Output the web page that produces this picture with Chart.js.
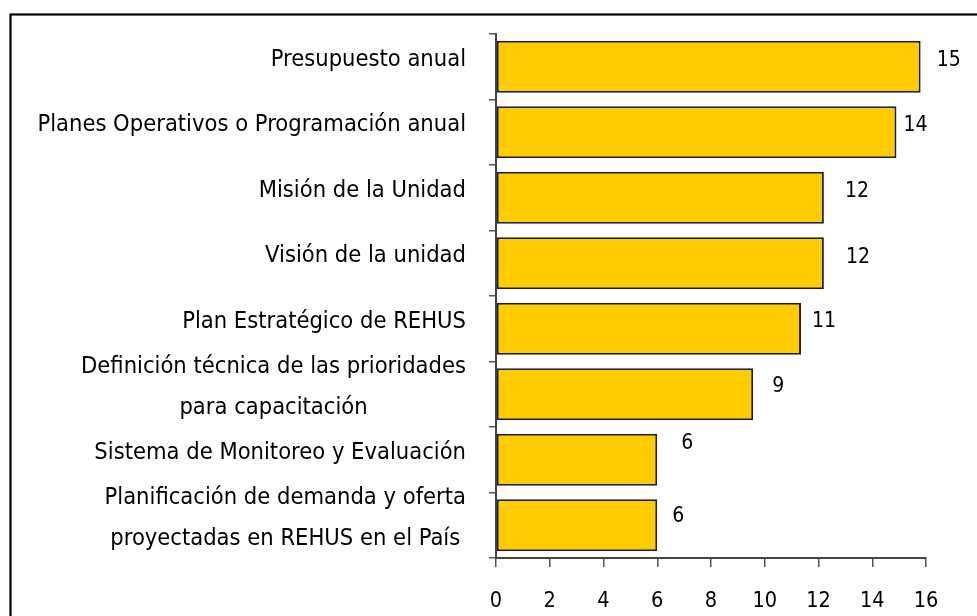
<!DOCTYPE html>
<html>
<head>
<meta charset="utf-8">
<script src="https://cdn.jsdelivr.net/npm/chart.js@4.4.1/dist/chart.umd.min.js"></script>
<style>
html,body{margin:0;padding:0;background:#fff;}
#wrap{width:977px;height:616px;position:relative;}
</style>
</head>
<body>
<div id="wrap"><canvas id="chart" width="977" height="616"></canvas></div>
<script>
// ---- data ----
const categories = [
  'Presupuesto anual',
  'Planes Operativos o Programación anual',
  'Misión de la Unidad',
  'Visión de la unidad',
  'Plan Estratégico de REHUS',
  ['Definición técnica de las prioridades', 'para capacitación'],
  'Sistema de Monitoreo y Evaluación',
  ['Planificación de demanda y oferta', 'proyectadas en REHUS en el País']
];
const barValues = [15.8, 14.9, 12.2, 12.2, 11.35, 9.57, 6.0, 6.0];
const valueLabels = ['15', '14', '12', '12', '11', '9', '6', '6'];
const xTickValues = [0, 2, 4, 6, 8, 10, 12, 14, 16];

// ---- styling ----
const FONT = '"DejaVu Sans Condensed", "DejaVu Sans", sans-serif';
const labelShift = [[16,-6],[7,-7],[21,-6],[22,-6],[11,-7],[19,-8],[24,-16],[15,-9]];

const frame = {
  id: 'frame',
  beforeDraw(chart) {
    const c = chart.ctx;
    c.save();
    c.fillStyle = '#fff';
    c.fillRect(0, 0, chart.width, chart.height);
    c.strokeStyle = '#000';
    c.lineWidth = 2.2;
    c.strokeRect(10.5, 14.5, 3000, 3000);
    c.restore();
  }
};

const yLabels = {
  id: 'yLabels',
  afterDraw(chart) {
    const c = chart.ctx;
    const ys = chart.scales.y;
    c.save();
    c.font = '23.5px ' + FONT;
    c.fillStyle = '#000';
    c.textAlign = 'center';
    c.textBaseline = 'middle';
    const R = 466;
    categories.forEach((lbl, i) => {
      const lines = Array.isArray(lbl) ? lbl : [lbl];
      const bw = Math.max(...lines.map(l => c.measureText(l).width));
      const cx = R - bw / 2;
      const y = ys.getPixelForValue(i) - 7;
      lines.forEach((l, j) => {
        c.fillText(l, cx, y + (j - (lines.length - 1) / 2) * 41);
      });
    });
    c.restore();
  }
};

const valueLabelPlugin = {
  id: 'valueLabels',
  afterDatasetsDraw(chart) {
    const c = chart.ctx;
    const meta = chart.getDatasetMeta(0);
    c.save();
    c.font = '21px ' + FONT;
    c.fillStyle = '#000';
    c.textAlign = 'left';
    c.textBaseline = 'middle';
    meta.data.forEach((el, i) => {
      const [dx, dy] = labelShift[i];
      c.fillText(valueLabels[i], el.x + dx, el.y + dy);
    });
    c.restore();
  }
};

new Chart(document.getElementById('chart'), {
  type: 'bar',
  data: {
    labels: categories,
    datasets: [{
      data: barValues,
      backgroundColor: '#FFCC00',
      borderColor: '#222',
      borderWidth: 2,
      borderSkipped: false,
      barPercentage: 0.794,
      categoryPercentage: 1.0
    }]
  },
  options: {
    indexAxis: 'y',
    responsive: false,
    devicePixelRatio: 1,
    animation: false,
    layout: { padding: { left: 0, top: 34, right: 51, bottom: 0 } },
    plugins: { legend: { display: false }, tooltip: { enabled: false } },
    scales: {
      y: {
        type: 'category',
        offset: true,
        afterFit(scale) { scale.width = 496; },
        grid: { display: true, drawOnChartArea: false, drawTicks: true, tickLength: 7, offset: true, color: '#555', lineWidth: 1.5 },
        border: { display: true, color: '#444', width: 2 },
        ticks: { display: false }
      },
      x: {
        type: 'linear',
        min: 0,
        max: 16,
        afterFit(scale) { scale.height = 58; },
        afterBuildTicks(scale) { scale.ticks = xTickValues.map(v => ({ value: v })); },
        grid: { display: true, drawOnChartArea: false, drawTicks: true, tickLength: 9, color: '#555', lineWidth: 1.5 },
        border: { display: true, color: '#444', width: 2 },
        ticks: { color: '#000', font: { size: 21.5, family: FONT }, padding: 22, maxRotation: 0 }
      }
    }
  },
  plugins: [frame, yLabels, valueLabelPlugin]
});
</script>
</body>
</html>
